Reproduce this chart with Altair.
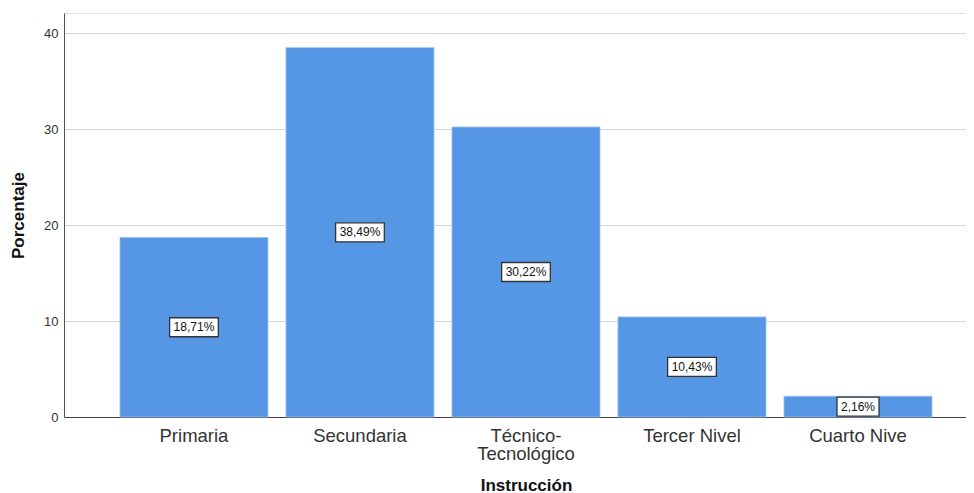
import altair as alt
import pandas as pd

categories = ["Primaria", "Secundaria", "Técnico-\nTecnológico", "Tercer Nivel", "Cuarto Nive"]
values = [18.71, 38.49, 30.22, 10.43, 2.16]
labels = ["18,71%", "38,49%", "30,22%", "10,43%", "2,16%"]
y_ticks = [0, 10, 20, 30, 40]

df = pd.DataFrame({"cat": categories, "value": values, "label": labels})

FONT = "Liberation Sans"

x_enc = alt.X(
    "cat:N",
    sort=categories,
    scale=alt.Scale(paddingInner=0.1084, paddingOuter=0.271, align=0.622),
    axis=alt.Axis(
        title="Instrucción",
        labelAngle=0,
        labelExpr="split(datum.label, '\\n')",
        labelFontSize=18.5,
        labelColor="#333333",
        labelFont=FONT,
        labelPadding=9,
        labelLineHeight=18,
        ticks=False,
        domainColor="#444444",
        domainWidth=1,
        grid=False,
        titleFontSize=17,
        titleFontWeight="bold",
        titleColor="#111111",
        titleFont=FONT,
        titleX=462,
        titleY=68,
        titleAlign="center",
        titleBaseline="middle",
    ),
)

y_scale = alt.Scale(domain=[0, 42.1], nice=False, zero=True)

bars = alt.Chart(df).mark_bar(
    color="#5596E5", stroke="#9cc2f0", strokeWidth=0.8
).encode(
    x=x_enc,
    y=alt.Y(
        "value:Q",
        scale=y_scale,
        axis=alt.Axis(
            values=y_ticks,
            title="Porcentaje",
            ticks=False,
            labelFontSize=13,
            labelColor="#333333",
            labelFont=FONT,
            labelPadding=6,
            grid=True,
            gridColor="#d6d6d6",
            gridWidth=1.2,
            domainColor="#555555",
            domainWidth=1,
            titleFontSize=17,
            titleFontWeight="bold",
            titleColor="#111111",
            titleFont=FONT,
            titleAngle=270,
            titleX=-46,
            titleY=202,
            titleAlign="center",
            titleBaseline="middle",
        ),
    ),
)

boxes = alt.Chart(df).transform_calculate(
    lo="datum.value / 2 - 0.99",
    hi="datum.value / 2 + 0.99",
    bw="(length(datum.label) - 2) * 6.67 + 22",
).mark_bar(fill="white", stroke="#333333", strokeWidth=1.3).encode(
    x=alt.X("cat:N", sort=categories),
    y=alt.Y("lo:Q", scale=y_scale),
    y2="hi:Q",
    size=alt.Size("bw:Q", scale=None, legend=None),
)

texts = alt.Chart(df).transform_calculate(
    mid="datum.value / 2"
).mark_text(
    fontSize=12, font=FONT, color="#111111", align="center", baseline="middle"
).encode(
    x=alt.X("cat:N", sort=categories),
    y=alt.Y("mid:Q", scale=y_scale),
    text="label:N",
)

chart = alt.layer(bars, boxes, texts).properties(
    width=902,
    height=404,
    autosize=alt.AutoSizeParams(type="none"),
    padding={"left": 56, "top": 5, "right": 0, "bottom": 76},
).configure_view(stroke=None).configure(font=FONT)

chart.save("out.html", embed_options={"renderer": "svg", "actions": False})
